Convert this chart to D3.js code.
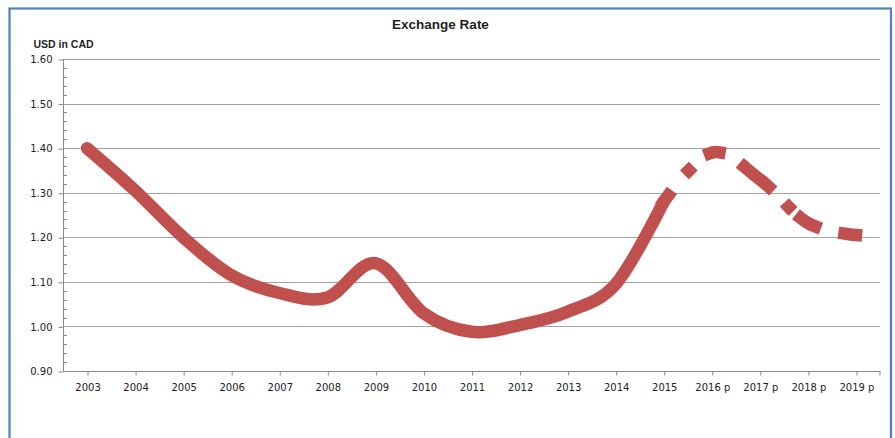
<!DOCTYPE html>
<html>
<head>
<meta charset="utf-8">
<script src="https://cdn.jsdelivr.net/npm/d3@7"></script>
<style>
  html, body { margin: 0; padding: 0; background: #fff; }
  svg { display: block; }
</style>
</head>
<body>
<svg id="chart" width="895" height="438"></svg>
<script>
// ---- data ----
const categories = ["2003","2004","2005","2006","2007","2008","2009","2010","2011","2012","2013","2014","2015","2016 p","2017 p","2018 p","2019 p"];
const actualValues = [1.40, 1.305, 1.20, 1.115, 1.075, 1.065, 1.142, 1.03, 0.988, 1.003, 1.033, 1.095, 1.28, null, null, null, null];
const projectedValues = [null, null, null, null, null, null, null, null, null, null, null, null, 1.28, 1.39, 1.33, 1.232, 1.205];
const yTicks = [0.90, 1.00, 1.10, 1.20, 1.30, 1.40, 1.50, 1.60];
const yMinorTicks = d3.range(0.92, 1.60, 0.02).map(v => +v.toFixed(2)).filter(v => Math.abs(v*10 - Math.round(v*10)) > 1e-6);
const titleText = "Exchange Rate";
const yAxisTitle = "USD in CAD";

// ---- layout / style ----
const svg = d3.select("#chart");
const plotLeft = 63, plotRight = 880, plotTop = 59, plotBottom = 371;
const lineColor = "#c0504d", lineWidth = 12.5;
// dash pattern (relative lengths, square caps), stretched to the projected path
const dashPattern = [8, 33, 0.001, 28, 10, 30, 32, 29, 0.001, 17, 17, 31, 12];

// chart border
svg.append("rect")
  .attr("x", 9.5).attr("y", 8.5).attr("width", 881.5).attr("height", 440)
  .attr("fill", "#fff").attr("stroke", "#4f81bd").attr("stroke-width", 2.2);

const x = d3.scalePoint().domain(categories).range([plotLeft, plotRight]).padding(0.5);
const y = d3.scaleLinear().domain([0.9, 1.6]).range([plotBottom, plotTop]);

// gridlines
svg.append("g").selectAll("line").data(yTicks.filter(v => v > 0.9)).join("line")
  .attr("x1", plotLeft).attr("x2", plotRight)
  .attr("y1", d => Math.round(y(d)) + 0.5).attr("y2", d => Math.round(y(d)) + 0.5)
  .attr("stroke", "#a3a3a3").attr("stroke-width", 1.2);

// y axis
const yAxis = d3.axisLeft(y).tickValues(yTicks).tickFormat(d3.format(".2f")).tickSize(5).tickPadding(6);
const gy = svg.append("g").attr("transform", `translate(${plotLeft + 0.5},0.5)`).call(yAxis);
gy.select(".domain").attr("stroke", "#8a8a8a").attr("d", `M0,${plotTop}V${plotBottom}`);
gy.selectAll(".tick line").attr("stroke", "#8a8a8a");
gy.selectAll(".tick text").attr("font-family", "DejaVu Sans").attr("font-size", 10).attr("fill", "#222");

// minor ticks (inside)
svg.append("g").selectAll("line").data(yMinorTicks).join("line")
  .attr("x1", plotLeft).attr("x2", plotLeft + 4)
  .attr("y1", d => Math.round(y(d)) + 0.5).attr("y2", d => Math.round(y(d)) + 0.5)
  .attr("stroke", "#8a8a8a").attr("stroke-width", 1);

// x axis
const xAxis = d3.axisBottom(x).tickSize(4).tickPadding(8).tickSizeOuter(0);
const gx = svg.append("g").attr("transform", `translate(0.5,${plotBottom + 0.5})`).call(xAxis);
gx.select(".domain").attr("stroke", "#8a8a8a").attr("d", `M${plotLeft},0H${plotRight}`);
gx.selectAll(".tick line").attr("stroke", "#8a8a8a");
gx.selectAll(".tick text").attr("font-family", "DejaVu Sans").attr("font-size", 10).attr("fill", "#222");
gx.append("line").attr("x1", plotRight - 0.5).attr("x2", plotRight - 0.5).attr("y1", 0).attr("y2", 4).attr("stroke", "#8a8a8a");

// lines
const line = d3.line()
  .defined(d => d.v != null)
  .x(d => x(d.c)).y(d => y(d.v))
  .curve(d3.curveCardinal.tension(0));

const actual = categories.map((c, i) => ({c, v: actualValues[i]}));
const projected = categories.map((c, i) => ({c, v: projectedValues[i]}));

svg.append("path").datum(actual).attr("d", line)
  .attr("fill", "none").attr("stroke", lineColor).attr("stroke-width", lineWidth)
  .attr("stroke-linecap", "round").attr("stroke-linejoin", "round");

const projPath = svg.append("path").datum(projected).attr("d", line)
  .attr("fill", "none").attr("stroke", lineColor).attr("stroke-width", lineWidth)
  .attr("stroke-linecap", "square").attr("stroke-linejoin", "miter");
const totalLen = projPath.node().getTotalLength();
const patSum = d3.sum(dashPattern);
projPath.attr("stroke-dasharray", dashPattern.map(d => (d * totalLen / patSum).toFixed(3)).join(" "));

// titles
svg.append("text").attr("x", 440.5).attr("y", 29).attr("text-anchor", "middle")
  .attr("font-family", "Liberation Sans, Arial, sans-serif").attr("font-weight", "bold")
  .attr("font-size", 13.5).attr("fill", "#1f1f1f").text(titleText);

svg.append("text").attr("x", 33.5).attr("y", 47.5)
  .attr("font-family", "Liberation Sans, Arial, sans-serif").attr("font-weight", "bold")
  .attr("font-size", 10.5).attr("fill", "#1f1f1f").text(yAxisTitle);
</script>
</body>
</html>
